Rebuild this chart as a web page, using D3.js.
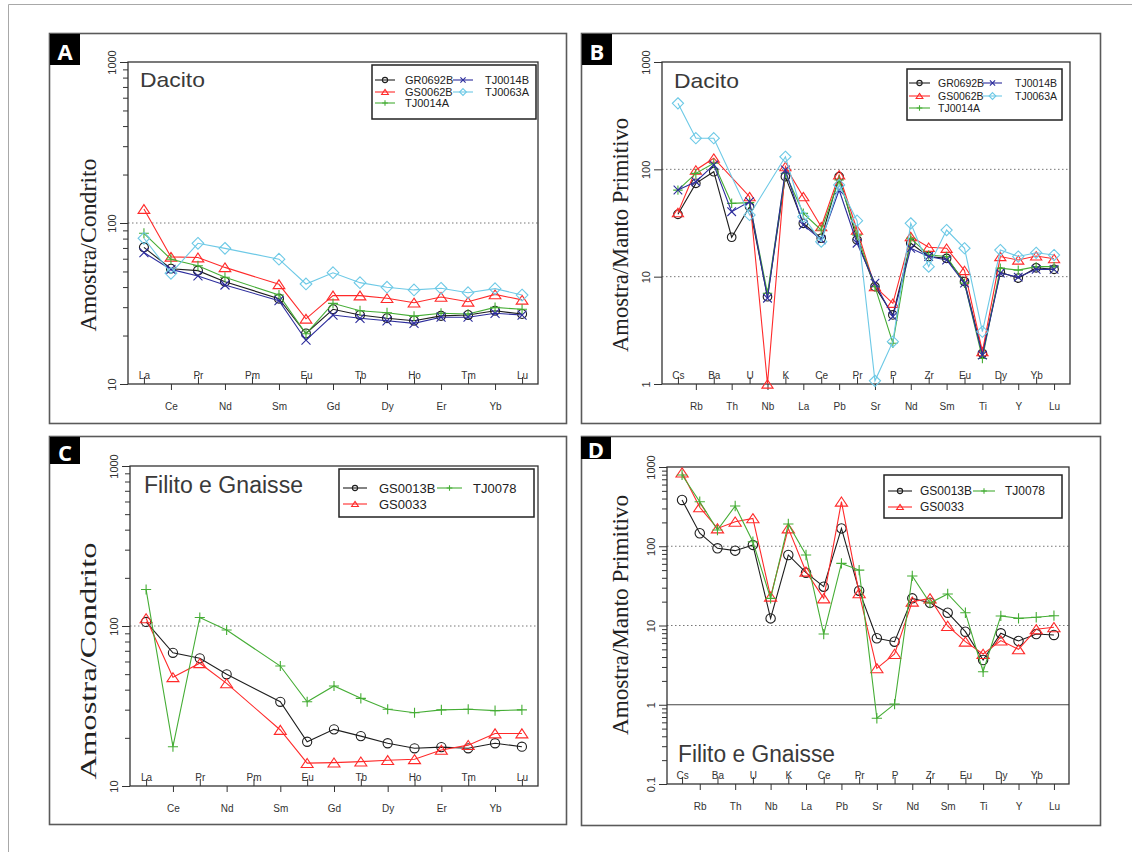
<!DOCTYPE html>
<html>
<head>
<meta charset="utf-8">
<script src="https://cdn.jsdelivr.net/npm/d3@7/dist/d3.min.js"></script>
<style>
  body { margin: 0; background: #fff; }
  svg { display: block; }
</style>
</head>
<body>
<script>
// ---------------- data ----------------
// element order on the x axis
var reeCats = ["La", "Ce", "Pr", "Nd", "Pm", "Sm", "Eu", "Gd", "Tb", "Dy", "Ho", "Er", "Tm", "Yb", "Lu"];
var spiderCats = ["Cs", "Rb", "Ba", "Th", "U", "Nb", "K", "La", "Ce", "Pb", "Pr", "Sr", "P", "Nd",
                  "Zr", "Sm", "Eu", "Ti", "Dy", "Y", "Yb", "Lu"];

// y tick labels
var ticksA = [10, 100, 1000];
var ticksB = [1, 10, 100, 1000];
var ticksD = [0.1, 1, 10, 100, 1000];

// A - Dacito, chondrite normalised (null = not analysed)
var aGR0692B = [70.6, 52, 50.6, 43.2, null, 33.9, 20.6, 29.1, 26.8, 25.6, 24.7, 26.5, 26.8, 28.5, 27.2];
var aGS0062B = [122, 61.6, 61, 53, null, 41.6, 25.4, 35.4, 35.4, 34.1, 32, 34.7, 32.4, 36, 33.3];
var aTJ0014A = [86.3, 59.6, 54.3, 46, null, 35.7, 20.5, 31.7, 28.5, 27.7, 26.4, 27.5, 27.2, 29.9, 29.1];
var aTJ0014B = [65.5, 51.5, 46.9, 41.2, null, 32.9, 18.7, 26.8, 25.6, 24.7, 23.8, 26, 26, 27.5, 26.8];
var aTJ0063A = [80.4, 48.7, 74.8, 69.6, null, 59.6, 41.8, 49.1, 42.6, 39.9, 38.4, 39.3, 36.9, 39.1, 35.7];

// B - Dacito, primitive mantle normalised
var bGR0692B = [38.1, 74, 95, 23.3, 44.9, 6.5, 85.5, 31.4, 22.8, 85.5, 22, 8.07, 4.4, 20.5, 15.4, 14.8, 9, 1.93, 11, 9.7, 12.1, 11.7];
var bGS0062B = [39.5, 98.6, 127, null, 55.6, 1.0, 106, 55.6, 29.2, 88.6, 27.2, 8.07, 5.65, 23.6, 18.8, 18.4, 11.4, 2, 15.4, 14.3, 15.6, 14.7];
var bTJ0014A = [64, 91.7, 114, 48.2, 49, 7, 91.7, 38.9, 27.2, 79.6, 24.4, 8.07, 2.4, 22.8, 15.9, 15.4, 8.7, 1.73, 12, 11.5, 12.4, 12.4];
var bTJ0014B = [64.2, 76.7, 110, 40.3, 50, 6.3, 98.6, 30.3, 22, 64.2, 20.5, 8.7, 4.24, 18.4, 15.4, 14.3, 8.7, 1.86, 10.8, 9.9, 11.7, 11.7];
var bTJ0063A = [412, 195, 195, null, 37.6, null, 131, 36.2, 21.2, 71.5, 33.2, 1.07, 2.48, 31.4, 12.4, 27.2, 18.4, 3.07, 17.7, 15.4, 16.7, 15.9];

// C - Filito e Gnaisse, chondrite normalised
var cGS0013B = [106, 68, 62.8, 49.9, null, 33.6, 18.9, 22.6, 20.5, 18.5, 17.2, 17.5, 17.2, 18.5, 17.6];
var cGS0033 = [111.7, 47.8, 58.5, 43.8, null, 22.4, 13.9, 14, 14.2, 14.5, 14.7, 16.8, 18, 21.3, 21.3];
var cTJ0078 = [169, 17.6, 113, 94.4, null, 56.2, 33.6, 42.2, 35.3, 30.2, 28.7, 29.9, 30.2, 29.6, 29.9];

// D - Filito e Gnaisse, primitive mantle normalised
var dGS0013B = [384, 146, 94.2, 88, 104, 12.3, 77.6, 46.4, 30.9, 168, 27.5, 6.9, 6.25, 22, 19.4, 14.5, 8.35, 3.67, 7.97, 6.37, 7.8, 7.6];
var dGS0033 = [850, 310, 168, 204, 225, 23.1, 168, 47.8, 22, 365, 25.5, 2.88, 4.37, 20, 22, 9.86, 6.25, 4.37, 6.45, 5.0, 8.95, 9.5];
var dTJ0078 = [794, 365, 160, 322, 114, 22, 191, 77.6, 7.8, 60.8, 50, 0.675, 1.02, 42.2, 19.2, 25, 14.5, 2.61, 13.2, 12.3, 12.7, 13.3];

// ---------------- styles ----------------
var col = {black: "#1e1e1e", red: "#ff2a2a", green: "#45ad35", navy: "#2c2c9c", cyan: "#6dc9e6"};

function markerPath(shape, s) {
  if (shape === "circle") {
    return "M" + s + ",0A" + s + "," + s + " 0 1 1 " + (-s) + ",0A" + s + "," + s + " 0 1 1 " + s + ",0Z";
  }
  if (shape === "triangle") {
    return "M0," + (-s) + "L" + (s * 1.3) + "," + (s * 0.95) + "L" + (-s * 1.3) + "," + (s * 0.95) + "Z";
  }
  if (shape === "plus") {
    return "M" + (-s * 1.1) + ",0H" + (s * 1.1) + "M0," + (-s * 1.1) + "V" + (s * 1.1);
  }
  if (shape === "cross") {
    return "M" + (-s) + "," + (-s) + "L" + s + "," + s + "M" + (-s) + "," + s + "L" + s + "," + (-s);
  }
  // diamond
  return "M0," + (-s * 1.3) + "L" + (s * 1.3) + ",0L0," + (s * 1.3) + "L" + (-s * 1.3) + ",0Z";
}

var svg = d3.select("body").append("svg")
  .attr("width", 1132)
  .attr("height", 852);

// page frame
svg.append("path")
  .attr("d", "M8.5,852V4.5H1132")
  .attr("fill", "none")
  .attr("stroke", "#a8a8a8")
  .attr("stroke-width", 1);

// ---------------- panels ----------------
var panels = [
  {
    letter: "A", frame: [49, 33, 566, 423], letterBox: [50, 34, 30, 31],
    plot: {l: 128, r: 538, t: 62, b: 384}, yDomain: [10, 1000], ticks: ticksA, minor: true,
    grid: [100], solid: [], cats: reeCats, pad: 0.59, size: 4.5,
    title: "Dacito", titleX: 140, titleY: 87, titleSize: 21, titleLen: 65,
    yTitle: "Amostra/Condrito", yTitleX: 88, yTitleY: 245, yTitleLen: 173, yTitleSize: 24,
    series: [
      {name: "GR0692B", values: aGR0692B, color: col.black, shape: "circle", c: 0, r: 0},
      {name: "GS0062B", values: aGS0062B, color: col.red, shape: "triangle", c: 0, r: 1},
      {name: "TJ0014A", values: aTJ0014A, color: col.green, shape: "plus", c: 0, r: 2},
      {name: "TJ0014B", values: aTJ0014B, color: col.navy, shape: "cross", c: 1, r: 0},
      {name: "TJ0063A", values: aTJ0063A, color: col.cyan, shape: "diamond", c: 1, r: 1}
    ],
    legend: {box: [372, 65, 536, 119], cols: [[375, 395, 405], [453, 473, 485]], rows: [80, 92, 103], font: 11}
  },
  {
    letter: "B", frame: [581, 33, 1100, 423], letterBox: [582, 34, 30, 31],
    plot: {l: 662, r: 1070, t: 62, b: 384}, yDomain: [1, 1000], ticks: ticksB, minor: false,
    grid: [10, 100], solid: [], cats: spiderCats, pad: 0.89, size: 4.3,
    title: "Dacito", titleX: 674, titleY: 88, titleSize: 21, titleLen: 65,
    yTitle: "Amostra/Manto Primitivo", yTitleX: 620, yTitleY: 235, yTitleLen: 234, yTitleSize: 23,
    series: [
      {name: "GR0692B", values: bGR0692B, color: col.black, shape: "circle", c: 0, r: 0},
      {name: "GS0062B", values: bGS0062B, color: col.red, shape: "triangle", c: 0, r: 1},
      {name: "TJ0014A", values: bTJ0014A, color: col.green, shape: "plus", c: 0, r: 2},
      {name: "TJ0014B", values: bTJ0014B, color: col.navy, shape: "cross", c: 1, r: 0},
      {name: "TJ0063A", values: bTJ0063A, color: col.cyan, shape: "diamond", c: 1, r: 1}
    ],
    legend: {box: [907, 69, 1062, 120], cols: [[909, 930, 938], [983, 1002, 1015]], rows: [83, 96, 108], font: 10.5}
  },
  {
    letter: "C", frame: [49, 436, 566, 824], letterBox: [50, 437, 30, 27],
    plot: {l: 130, r: 538, t: 466, b: 786}, yDomain: [10, 1000], ticks: ticksA, minor: true,
    grid: [100], solid: [], cats: reeCats, pad: 0.6, size: 4.6,
    title: "Filito e Gnaisse", titleX: 144, titleY: 493, titleSize: 23, titleLen: 159,
    yTitle: "Amostra/Condrito", yTitleX: 88, yTitleY: 661, yTitleLen: 237, yTitleSize: 24,
    series: [
      {name: "GS0013B", values: cGS0013B, color: col.black, shape: "circle", c: 0, r: 0},
      {name: "GS0033", values: cGS0033, color: col.red, shape: "triangle", c: 0, r: 1},
      {name: "TJ0078", values: cTJ0078, color: col.green, shape: "plus", c: 1, r: 0}
    ],
    legend: {box: [339, 469, 534, 517], cols: [[343, 367, 379], [437, 462, 473]], rows: [488, 504], font: 13}
  },
  {
    letter: "D", frame: [581, 436, 1100, 825], letterBox: [581, 437, 30, 22],
    plot: {l: 667, r: 1069, t: 467, b: 784}, yDomain: [0.1, 1000], ticks: ticksD, minor: true,
    grid: [10, 100], solid: [1], cats: spiderCats, pad: 0.85, size: 4.7,
    title: "Filito e Gnaisse", titleX: 678, titleY: 762, titleSize: 23, titleLen: 157,
    yTitle: "Amostra/Manto Primitivo", yTitleX: 620, yTitleY: 615, yTitleLen: 240, yTitleSize: 23,
    series: [
      {name: "GS0013B", values: dGS0013B, color: col.black, shape: "circle", c: 0, r: 0},
      {name: "GS0033", values: dGS0033, color: col.red, shape: "triangle", c: 0, r: 1},
      {name: "TJ0078", values: dTJ0078, color: col.green, shape: "plus", c: 1, r: 0}
    ],
    legend: {box: [884, 475, 1062, 518], cols: [[888, 912, 920], [973, 995, 1005]], rows: [491, 507], font: 12}
  }
];

panels.forEach(drawPanel);

function drawPanel(p) {
  var g = svg.append("g");
  var f = p.frame;

  // panel frame
  g.append("rect")
    .attr("x", f[0] + 0.5).attr("y", f[1] + 0.5)
    .attr("width", f[2] - f[0]).attr("height", f[3] - f[1])
    .attr("fill", "none")
    .attr("stroke", "#5a5a5a")
    .attr("stroke-width", 1.6);

  // letter badge
  var lb = p.letterBox;
  g.append("rect").attr("x", lb[0]).attr("y", lb[1]).attr("width", lb[2]).attr("height", lb[3]).attr("fill", "#000");
  g.append("text")
    .attr("x", lb[0] + lb[2] / 2).attr("y", lb[1] + lb[3] / 2 + 1)
    .attr("text-anchor", "middle").attr("dominant-baseline", "central")
    .attr("font-family", "'Open Sans', sans-serif").attr("font-weight", "bold")
    .attr("font-size", 22).attr("fill", "#fff")
    .text(p.letter);

  var pl = p.plot;
  var x = d3.scalePoint().domain(p.cats).range([pl.l, pl.r]).padding(p.pad);
  var y = d3.scaleLog().domain(p.yDomain).range([pl.b, pl.t]);

  // dotted reference lines
  p.grid.forEach(function (v) {
    g.append("line")
      .attr("x1", pl.l).attr("x2", pl.r)
      .attr("y1", y(v)).attr("y2", y(v))
      .attr("stroke", "#777").attr("stroke-width", 1)
      .attr("stroke-dasharray", "1.5,2.5");
  });
  p.solid.forEach(function (v) {
    g.append("line")
      .attr("x1", pl.l).attr("x2", pl.r)
      .attr("y1", y(v)).attr("y2", y(v))
      .attr("stroke", "#444").attr("stroke-width", 1.2);
  });

  // y axis: minor ticks then major ticks with rotated labels
  if (p.minor) {
    var minorVals = [];
    var lo = Math.log10(p.yDomain[0]), hi = Math.log10(p.yDomain[1]);
    for (var e = lo; e < hi; e++) {
      for (var m = 2; m <= 9; m++) minorVals.push(m * Math.pow(10, e));
    }
    var minAx = g.append("g")
      .attr("transform", "translate(" + pl.l + ",0)")
      .call(d3.axisLeft(y).tickValues(minorVals).tickSize(5).tickFormat(""));
    minAx.select(".domain").remove();
    minAx.selectAll("line").attr("stroke", "#333");
  }
  var yAx = g.append("g")
    .attr("transform", "translate(" + pl.l + ",0)")
    .call(d3.axisLeft(y).tickValues(p.ticks).tickSize(8).tickFormat(function (d) { return String(d); }));
  yAx.select(".domain").remove();
  yAx.selectAll("line").attr("stroke", "#333");
  yAx.selectAll("text")
    .attr("x", null).attr("dy", null)
    .attr("transform", "translate(-16,0) rotate(-90)")
    .attr("text-anchor", "middle")
    .attr("dominant-baseline", "central")
    .attr("font-family", "'Liberation Sans', Arial, sans-serif")
    .attr("font-size", 11)
    .attr("fill", "#333");

  // x axis: alternate categories below (outward) and above (inward)
  var outCats = p.cats.filter(function (d, i) { return i % 2 === 1; });
  var inCats = p.cats.filter(function (d, i) { return i % 2 === 0; });
  var xOut = g.append("g")
    .attr("transform", "translate(0," + pl.b + ")")
    .call(d3.axisBottom(x).tickValues(outCats).tickSize(6).tickPadding(13));
  xOut.select(".domain").remove();
  var xIn = g.append("g")
    .attr("transform", "translate(0," + pl.b + ")")
    .call(d3.axisBottom(x).tickValues(inCats).tickSize(-7));
  xIn.select(".domain").remove();
  xIn.selectAll("text").attr("y", -5).attr("dy", null);
  g.selectAll(".tick line").attr("stroke", "#333");
  [xOut, xIn].forEach(function (ax) {
    ax.selectAll("text")
      .attr("font-family", "'Liberation Sans', Arial, sans-serif")
      .attr("font-size", 10)
      .attr("fill", "#333");
  });

  // plot box
  g.append("rect")
    .attr("x", pl.l).attr("y", pl.t)
    .attr("width", pl.r - pl.l).attr("height", pl.b - pl.t)
    .attr("fill", "none")
    .attr("stroke", "#333")
    .attr("stroke-width", 1.3);

  // titles
  g.append("text")
    .attr("x", p.titleX).attr("y", p.titleY)
    .attr("font-family", "'Liberation Sans', Arial, sans-serif")
    .attr("font-size", p.titleSize)
    .attr("fill", "#3a3a3a")
    .attr("textLength", p.titleLen).attr("lengthAdjust", "spacingAndGlyphs")
    .text(p.title);

  g.append("text")
    .attr("transform", "translate(" + p.yTitleX + "," + p.yTitleY + ") rotate(-90)")
    .attr("text-anchor", "middle")
    .attr("dominant-baseline", "central")
    .attr("font-family", "'Liberation Serif', 'Times New Roman', serif")
    .attr("font-size", p.yTitleSize)
    .attr("fill", "#222")
    .attr("textLength", p.yTitleLen).attr("lengthAdjust", "spacingAndGlyphs")
    .text(p.yTitle);

  // series
  var line = d3.line()
    .defined(function (d) { return d.v !== null; })
    .x(function (d) { return x(d.cat); })
    .y(function (d) { return y(d.v); });

  p.series.forEach(function (s) {
    var pts = s.values.map(function (v, i) { return {cat: p.cats[i], v: v}; })
      .filter(function (d) { return d.v !== null; });
    g.append("path")
      .datum(pts)
      .attr("fill", "none")
      .attr("stroke", s.color)
      .attr("stroke-width", 1.1)
      .attr("d", line);
    g.selectAll(null)
      .data(pts)
      .enter().append("path")
      .attr("transform", function (d) { return "translate(" + x(d.cat) + "," + y(d.v) + ")"; })
      .attr("d", markerPath(s.shape, p.size))
      .attr("fill", "none")
      .attr("stroke", s.color)
      .attr("stroke-width", 1.1);
  });

  // legend
  var L = p.legend;
  g.append("rect")
    .attr("x", L.box[0]).attr("y", L.box[1])
    .attr("width", L.box[2] - L.box[0]).attr("height", L.box[3] - L.box[1])
    .attr("fill", "#fff")
    .attr("stroke", "#222")
    .attr("stroke-width", 1.5);
  p.series.forEach(function (s) {
    var c = L.cols[s.c], ry = L.rows[s.r];
    g.append("line")
      .attr("x1", c[0]).attr("x2", c[1]).attr("y1", ry).attr("y2", ry)
      .attr("stroke", s.color).attr("stroke-width", 1.1);
    g.append("path")
      .attr("transform", "translate(" + ((c[0] + c[1]) / 2) + "," + ry + ")")
      .attr("d", markerPath(s.shape, 2.6))
      .attr("fill", "none")
      .attr("stroke", s.color)
      .attr("stroke-width", 1.1);
    g.append("text")
      .attr("x", c[2]).attr("y", ry)
      .attr("dominant-baseline", "central")
      .attr("font-family", "'Liberation Sans', Arial, sans-serif")
      .attr("font-size", L.font)
      .attr("fill", "#222")
      .text(s.name);
  });
}
</script>
</body>
</html>
